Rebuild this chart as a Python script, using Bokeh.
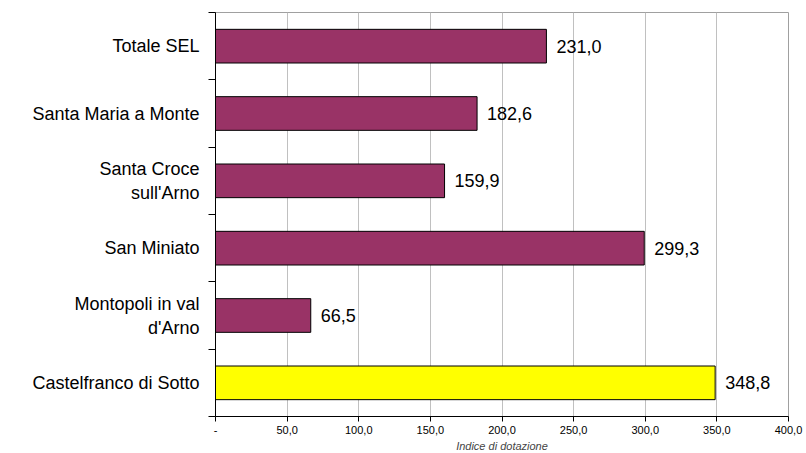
from bokeh.plotting import figure
from bokeh.models import ColumnDataSource, FixedTicker, Range1d, LabelSet
from bokeh.core.properties import value
from bokeh.embed import file_html
from bokeh.resources import INLINE

categories = ["Totale SEL", "Santa Maria a Monte", "Santa Croce\nsull'Arno",
              "San Miniato", "Montopoli in val\nd'Arno", "Castelfranco di Sotto"]
values = [231.0, 182.6, 159.9, 299.3, 66.5, 348.8]
colors = ["#993366", "#993366", "#993366", "#993366", "#993366", "#FFFF00"]
x_ticks = [0, 50, 100, 150, 200, 250, 300, 350, 400]
x_tick_labels = ["-", "50,0", "100,0", "150,0", "200,0", "250,0", "300,0", "350,0", "400,0"]

n = len(categories)
ypos = [n - i - 0.5 for i in range(n)]
labels = [f"{v:.1f}".replace(".", ",") for v in values]

src = ColumnDataSource(dict(y=ypos, v=values, c=colors, lab=labels))

p = figure(frame_width=573, frame_height=404, output_backend="svg", toolbar_location=None,
           x_range=Range1d(0, 400), y_range=Range1d(0, n),
           min_border_left=215, min_border_right=18, min_border_top=12, min_border_bottom=37)
p.outline_line_color = "#a0a0a0"
p.outline_line_width = 1
p.background_fill_color = "white"
p.border_fill_color = "white"

p.hbar(y="y", right="v", left=0, height=0.5, fill_color="c", line_color="black",
       line_width=1, source=src)

lbl = LabelSet(x="v", y="y", text="lab", source=src, x_offset=10, text_align="left",
               text_baseline="middle", text_font=value("Liberation Sans"),
               text_font_size="18px", text_color="black")
p.add_layout(lbl)

# x axis
p.xaxis.ticker = FixedTicker(ticks=x_ticks)
p.xaxis.major_label_overrides = {t: l for t, l in zip(x_ticks, x_tick_labels)}
p.xaxis.major_label_text_font = "Liberation Sans"
p.xaxis.major_label_text_font_size = "11px"
p.xaxis.major_label_text_color = "black"
p.xaxis.major_tick_out = 5
p.xaxis.major_tick_in = 0
p.xaxis.minor_tick_line_color = None
p.xaxis.axis_line_color = "black"
p.xaxis.major_tick_line_color = "black"
p.xaxis.axis_label = "Indice di dotazione"
p.xaxis.axis_label_text_font = "Liberation Sans"
p.xaxis.axis_label_text_font_style = "italic"
p.xaxis.axis_label_text_font_size = "11px"
p.xaxis.axis_label_standoff = 3
p.xaxis.major_label_standoff = 4

# y axis
p.yaxis.ticker = FixedTicker(ticks=ypos, minor_ticks=list(range(n + 1)))
p.yaxis.major_label_overrides = {y: c for y, c in zip(ypos, categories)}
p.yaxis.major_label_text_font = "Liberation Sans"
p.yaxis.major_label_text_font_size = "18px"
p.yaxis.major_label_text_color = "black"
p.yaxis.major_tick_line_color = None
p.yaxis.major_label_standoff = 9
p.yaxis.minor_tick_out = 7
p.yaxis.minor_tick_in = 0
p.yaxis.minor_tick_line_color = "black"
p.yaxis.axis_line_color = "black"

p.xgrid.ticker = FixedTicker(ticks=x_ticks[1:])
p.xgrid.grid_line_color = "#c0c0c0"
p.ygrid.grid_line_color = None

open("out.html", "w").write(file_html(p, INLINE))
